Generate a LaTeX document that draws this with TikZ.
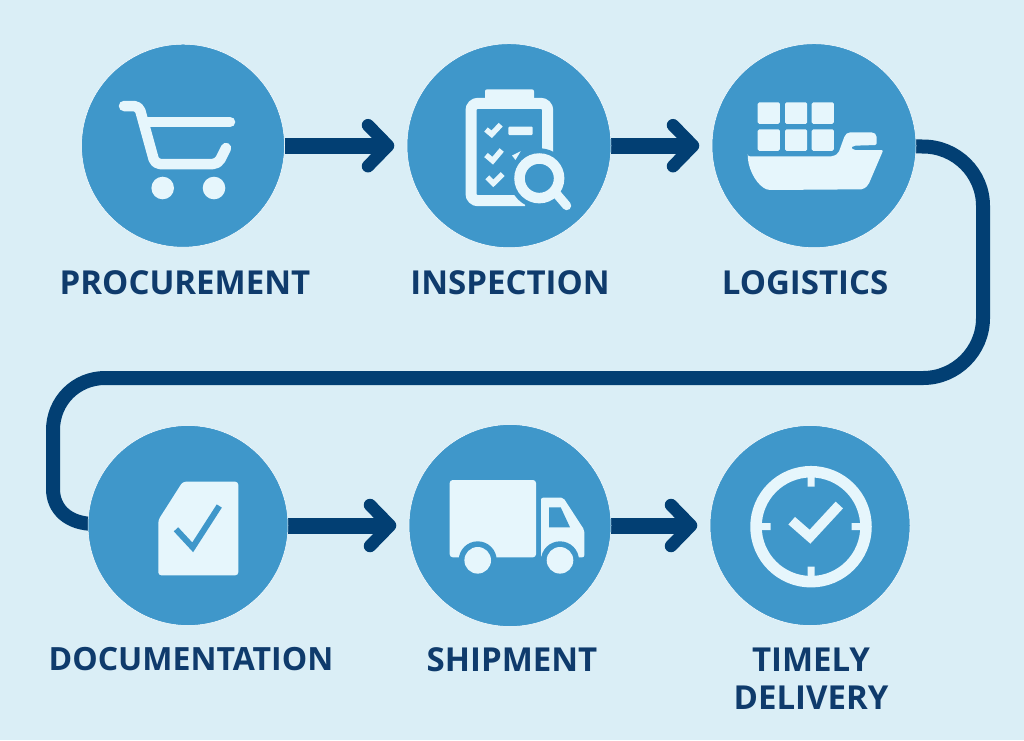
\documentclass[tikz,border=0pt]{standalone}
\usepackage{fontspec}
\setmainfont{Open Sans}
\usetikzlibrary{arrows.meta,backgrounds}
\definecolor{bgc}{HTML}{DAEEF6}
\definecolor{discblue}{HTML}{3F97CA}
\definecolor{navy}{HTML}{023F73}
\definecolor{ink}{HTML}{0F3B6C}
\definecolor{ico}{HTML}{E6F6FC}
\tikzset{
  stepdisc/.style={circle,fill=discblue,draw=white,line width=.5pt,inner sep=0pt,minimum size=#1},
  lab/.style={text=ink,font=\fontsize{33}{38}\selectfont\bfseries,align=center,inner sep=0pt},
  flow/.style={draw=navy,line width=16pt,shorten >=12.5pt,-{Straight Barb[length=20pt,width=41pt,line width=12.5pt,round]}},
  loopline/.style={draw=navy,line width=14pt},
  istroke/.style={draw=ico,fill=none},
  bcut/.style={fill=discblue,draw=none}
}
\begin{document}
\begin{tikzpicture}[x=1pt,y=-1pt]
\useasboundingbox (0,0) rectangle (1024,740);
\node[stepdisc=203pt] (c1) at (183,145.7) {};
\node[stepdisc=204pt] (c2) at (509,145.7) {};
\node[stepdisc=204pt] (c3) at (814,145.7) {};
\node[stepdisc=200pt] (c4) at (188,525.5) {};
\node[stepdisc=202pt] (c5) at (510,525.5) {};
\node[stepdisc=200pt] (c6) at (810,525.5) {};
\begin{scope}[on background layer]
\fill[bgc] (0,0) rectangle (1024,740);
\draw[flow] (c1.east) -- (c2.west);
\draw[flow] (c2.east) -- (c3.west);
\draw[flow] (c4.east) -- (c5.west);
\draw[flow] (c5.east) -- (c6.west);
\draw[loopline] (c3.center) -- (923,146.5) .. controls (956,146.5) and (983,173) .. (983,206)
  -- (983,318) .. controls (983,351) and (956,378) .. (923,378)
  -- (105,378) .. controls (76,378) and (53,401) .. (53,430)
  -- (53,489) .. controls (53,509) and (68,524) .. (95,524) -- (c4.center);
\end{scope}
% cart
\draw[istroke,line width=10.5pt,line cap=round,line join=round,rounded corners=5pt]
  (124,106) -- (139,106) -- (155,164) -- (218,164) -- (226,148);
\draw[istroke,line width=10.5pt,line cap=round] (147,122) -- (230,122);
\fill[ico] (162.7,188) circle[radius=11.3] (214,188) circle[radius=11.3];
% clipboard
\draw[istroke,line width=11pt,rounded corners=7pt] (547.7,152) -- (547.7,103.3) -- (471,103.3) -- (471,200.7) -- (525,200.7);
\fill[ico,rounded corners=2pt] (485,89.3) rectangle (534,102);
\draw[istroke,line width=5.5pt] (486,129.5) -- (491.7,134.3) -- (500.7,124.7);
\draw[istroke,line width=5.5pt] (486,155) -- (492.7,160.7) -- (501.7,150);
\draw[istroke,line width=5.5pt] (487.3,177.3) -- (493.3,183.3) -- (502.7,174);
\fill[ico,rounded corners=1pt] (508.3,126.7) rectangle (532.7,135);
\fill[ico] (512,155.5) -- (520.7,151.2) -- (515.5,160) -- cycle;
\fill[bcut] (539.3,178.3) circle[radius=30];
\draw[istroke,line width=10.5pt] (539.3,178.3) circle[radius=19.8];
\draw[istroke,line width=9pt,line cap=round] (555,192) -- (566.7,205.7);
% ship
\foreach \xa in {757.7,785,811.7}{
  \foreach \ya in {102.3,129.3}{
    \fill[ico,rounded corners=1.5pt] (\xa,\ya) rectangle ++(22.2,21.5);
  }
}
\fill[ico,rounded corners=2pt] (747.7,156.3) -- (833.3,156.3) -- (838.3,153.3) -- (845,135) -- (848.3,132.3) -- (873.3,132.3) -- (876.7,135) -- (876.7,145) -- (853.3,145.7) -- (851,147.7) -- (853.3,150) -- (883.3,150) -- (868.3,185) -- (863.3,189.3) -- (768.3,190) .. controls (758,186) and (749,172) .. (747.7,156.3) -- cycle;
% document
\fill[ico,rounded corners=3pt] (182.7,481.7) -- (238.3,481.7) -- (238.3,575.3) -- (158.3,575.3) -- (158.3,520) -- cycle;
\draw[draw=discblue,line width=6pt,fill=none] (176,529.3) -- (192.7,547.3) -- (219.3,506);
% truck
\fill[ico,rounded corners=3pt] (449.7,480) rectangle (536,557.3);
\fill[ico,rounded corners=2pt] (541,497.7) -- (563.3,497.7) -- (584.3,530) -- (584.3,557.3) -- (541,557.3) -- cycle;
\fill[discblue] (549,507.3) -- (560.7,507.3) -- (570,527.3) -- (549,527.3) -- cycle;
\fill[discblue] (477.7,560.3) circle[radius=19] (560,560.3) circle[radius=19];
\fill[ico] (477.7,560.3) circle[radius=13.3] (560,560.3) circle[radius=13.3];
% clock
\draw[istroke,line width=11.5pt] (811,526.7) circle[radius=55];
\fill[ico] (807.5,477) rectangle (814.5,486.7) (807.5,566.7) rectangle (814.5,577)
  (761,523.2) rectangle (770.7,530.2) (851.7,523.2) rectangle (861,530.2);
\draw[istroke,line width=10pt] (791.7,520.7) -- (810,536.7) -- (839.3,505);
% labels
\node[lab] (l1) at (185,282.5) {PROCUREMENT};
\node[lab] (l2) at (510,282.5) {INSPECTION};
\node[lab] (l3) at (805,282.5) {LOGISTICS};
\node[lab,font=\fontsize{32}{38}\selectfont\bfseries] (l4) at (191,659.5) {DOCUMENTATION};
\node[lab] (l5) at (512,659.5) {SHIPMENT};
\node[lab] (l6) at (811,678.5) {TIMELY\\DELIVERY};
\end{tikzpicture}
\end{document}
